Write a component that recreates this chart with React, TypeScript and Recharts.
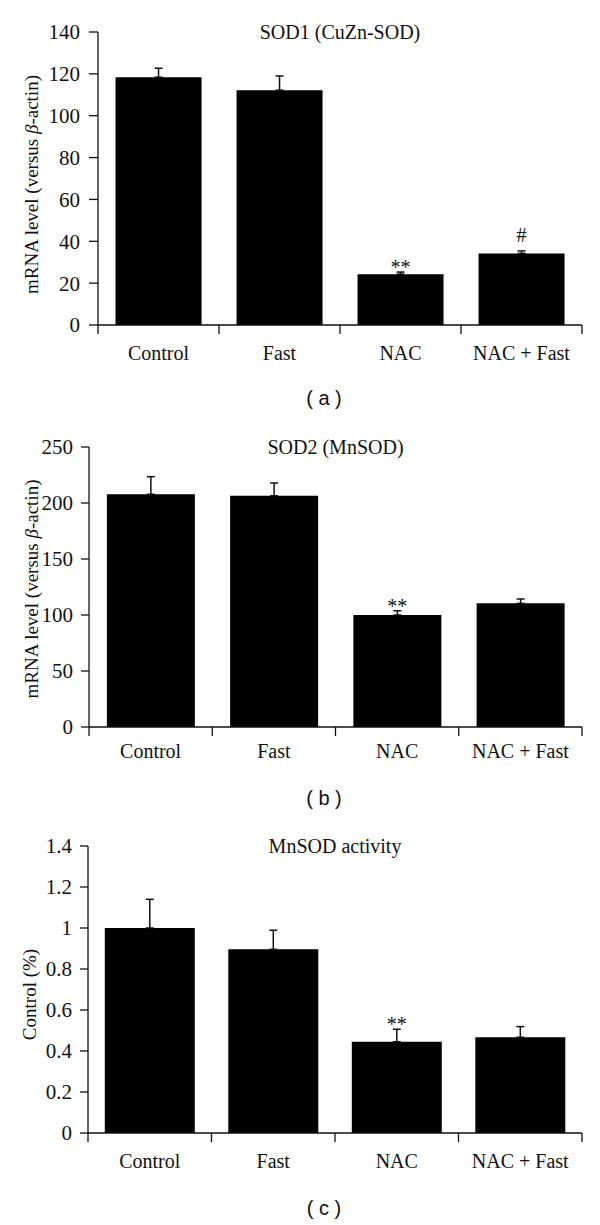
import React from "react";
import { Bar, BarChart, ErrorBar, LabelList, ReferenceLine, XAxis, YAxis } from "recharts";

const CATEGORIES = ["Control", "Fast", "NAC", "NAC + Fast"];

// (a) SOD1 mRNA
const SOD1_VALUES = [118.4, 112.2, 24.3, 34.2];
const SOD1_ERRORS = [4.3, 6.8, 1.0, 1.2];
const SOD1_MARKS = ["", "", "**", "#"];
const SOD1_TICKS = [0, 20, 40, 60, 80, 100, 120, 140];

// (b) SOD2 mRNA
const SOD2_VALUES = [207.8, 206.5, 100, 110.4];
const SOD2_ERRORS = [15.7, 11.4, 3.8, 3.9];
const SOD2_MARKS = ["", "", "**", ""];
const SOD2_TICKS = [0, 50, 100, 150, 200, 250];

// (c) MnSOD activity
const ACTIVITY_VALUES = [1.0, 0.896, 0.445, 0.467];
const ACTIVITY_ERRORS = [0.14, 0.093, 0.061, 0.052];
const ACTIVITY_MARKS = ["", "", "**", ""];
const ACTIVITY_TICKS = [0, 0.2, 0.4, 0.6, 0.8, 1, 1.2, 1.4];

const SERIF = '"Liberation Serif", "Times New Roman", serif';
const SANS = '"Liberation Sans", Arial, sans-serif';
const INK = "#111";
const FONT = 20;
const Y_TICK_FONT = 21;
const LABEL_FONT = 19;
const WIDTH = 600;
const RIGHT = 18;
const X_TICK = 9;
// baseline shift of each marker above the error cap
const MARK_SHIFT: Record<string, number> = { "**": -2, "#": 9 };

type PanelProps = {
  title: string;
  values: number[];
  errors: number[];
  marks: string[];
  ticks: number[];
  yLabel: React.ReactNode;
  caption: string;
  top: number;
  height: number;
  marginTop: number;
  marginBottom: number;
  axisWidth: number;
  yTickSize: number;
  yTickGap: number;
  xLabelGap: number;
  barGap: string;
  yLabelX: number;
  yLabelShift: number;
  captionY: number;
};

function CategoryTick(props: any) {
  const { x, y, payload, index, gap, half } = props;
  const off = payload && typeof payload.offset === "number" && payload.offset > 0 ? payload.offset : half;
  const axisY = y - gap;
  return (
    <g>
      <line x1={x - off} x2={x - off} y1={axisY} y2={axisY + X_TICK} stroke={INK} strokeWidth={1.3} />
      {index === CATEGORIES.length - 1 && (
        <line x1={x + off} x2={x + off} y1={axisY} y2={axisY + X_TICK} stroke={INK} strokeWidth={1.3} />
      )}
      <text
        x={x}
        y={y}
        dy="0.71em"
        textAnchor="middle"
        fill={INK}
        fontSize={FONT}
        style={{ fontFamily: SERIF }}
      >
        {payload.value}
      </text>
    </g>
  );
}

function Panel(p: PanelProps) {
  const data = CATEGORIES.map((name, i) => ({
    name,
    value: p.values[i],
    // only the upper whisker is shown
    error: [0, p.errors[i]],
    mark: p.marks[i],
  }));
  const plotH = p.height - p.marginTop - p.marginBottom - 30;
  const half = (WIDTH - RIGHT - p.axisWidth) / CATEGORIES.length / 2;
  const yMax = p.ticks[p.ticks.length - 1];

  const renderMark = (lp: any) => {
    const { x, y, width, height, value, index } = lp;
    if (!value) return null;
    const errTop = y - (height * p.errors[index]) / p.values[index];
    return (
      <text
        x={x + width / 2}
        y={errTop - (MARK_SHIFT[value] ?? 0)}
        textAnchor="middle"
        fill={INK}
        fontSize={FONT}
        style={{ fontFamily: SERIF }}
      >
        {value}
      </text>
    );
  };

  const renderYLabel = () => {
    const cy = p.marginTop + plotH / 2 + p.yLabelShift;
    return (
      <text
        x={p.yLabelX}
        y={cy}
        transform={`rotate(-90 ${p.yLabelX} ${cy})`}
        textAnchor="middle"
        dominantBaseline="central"
        fill={INK}
        fontSize={LABEL_FONT}
        style={{ fontFamily: SERIF }}
      >
        {p.yLabel}
      </text>
    );
  };

  return (
    <>
      <div style={{ position: "absolute", left: 0, top: p.top }}>
        <BarChart
          width={WIDTH}
          height={p.height}
          data={data}
          margin={{ top: p.marginTop, right: RIGHT, left: 0, bottom: p.marginBottom }}
          barCategoryGap={p.barGap}
        >
          <XAxis
            dataKey="name"
            height={30}
            interval={0}
            tickSize={0}
            tickMargin={p.xLabelGap}
            tickLine={false}
            axisLine={{ stroke: INK, strokeWidth: 1.3 }}
            tick={(tp: any) => <CategoryTick {...tp} gap={p.xLabelGap} half={half} />}
          />
          <YAxis
            width={p.axisWidth}
            domain={[0, yMax]}
            ticks={p.ticks}
            interval={0}
            tickSize={p.yTickSize}
            tickMargin={p.yTickGap}
            axisLine={{ stroke: INK, strokeWidth: 1.3 }}
            tickLine={{ stroke: INK, strokeWidth: 1.3 }}
            tick={{ fill: INK, fontSize: Y_TICK_FONT, fontFamily: SERIF }}
            label={renderYLabel}
          />
          <ReferenceLine
            y={yMax}
            stroke="none"
            label={{ value: p.title, position: "center", fill: INK, fontSize: FONT, fontFamily: SERIF }}
          />
          <Bar dataKey="value" fill="#000" isAnimationActive={false}>
            <ErrorBar dataKey="error" width={4} stroke={INK} strokeWidth={1.5} direction="y" />
            <LabelList dataKey="mark" content={renderMark} />
          </Bar>
        </BarChart>
      </div>
      <div
        style={{
          position: "absolute",
          left: 264,
          width: 120,
          top: p.captionY - 12,
          lineHeight: "24px",
          textAlign: "center",
          fontFamily: SANS,
          fontSize: 20,
          color: INK,
          whiteSpace: "pre",
        }}
      >
        {p.caption}
      </div>
    </>
  );
}

const mrnaLabel = (
  <>
    mRNA level (versus <tspan fontStyle="italic">β</tspan>-actin)
  </>
);

export default function App() {
  return (
    <div
      style={{
        position: "absolute",
        left: 0,
        top: 0,
        width: WIDTH,
        height: 1225,
        background: "#fff",
        overflow: "hidden",
      }}
    >
      <Panel
        title="SOD1 (CuZn-SOD)"
        values={SOD1_VALUES}
        errors={SOD1_ERRORS}
        marks={SOD1_MARKS}
        ticks={SOD1_TICKS}
        yLabel={mrnaLabel}
        caption="( a )"
        top={0}
        height={380}
        marginTop={32}
        marginBottom={25}
        axisWidth={98}
        yTickSize={9}
        yTickGap={9}
        xLabelGap={21}
        barGap="14.5%"
        yLabelX={31}
        yLabelShift={6}
        captionY={398}
      />
      <Panel
        title="SOD2 (MnSOD)"
        values={SOD2_VALUES}
        errors={SOD2_ERRORS}
        marks={SOD2_MARKS}
        ticks={SOD2_TICKS}
        yLabel={mrnaLabel}
        caption="( b )"
        top={400}
        height={380}
        marginTop={47}
        marginBottom={23}
        axisWidth={89}
        yTickSize={8}
        yTickGap={8}
        xLabelGap={17}
        barGap="14.5%"
        yLabelX={31}
        yLabelShift={2}
        captionY={798}
      />
      <Panel
        title="MnSOD activity"
        values={ACTIVITY_VALUES}
        errors={ACTIVITY_ERRORS}
        marks={ACTIVITY_MARKS}
        ticks={ACTIVITY_TICKS}
        yLabel="Control (%)"
        caption="( c )"
        top={810}
        height={380}
        marginTop={36}
        marginBottom={27}
        axisWidth={88}
        yTickSize={8}
        yTickGap={8}
        xLabelGap={21}
        barGap="13.6%"
        yLabelX={29}
        yLabelShift={5}
        captionY={1208}
      />
    </div>
  );
}
